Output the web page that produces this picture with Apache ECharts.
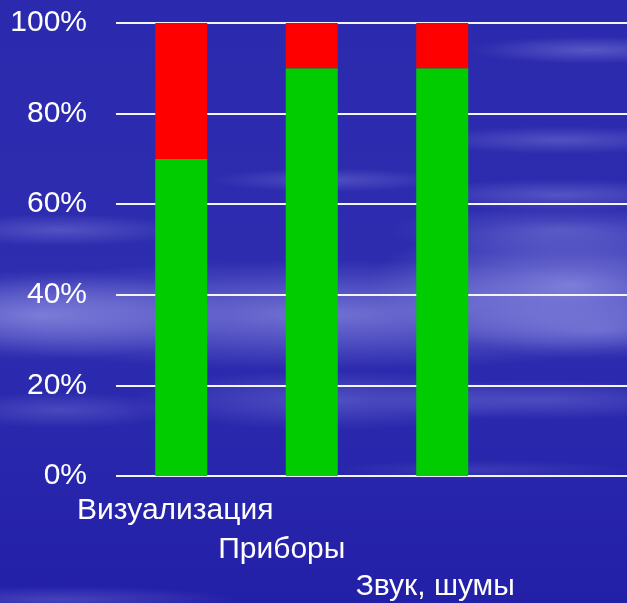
<!DOCTYPE html>
<html>
<head>
<meta charset="utf-8">
<script src="https://cdn.jsdelivr.net/npm/echarts@6/dist/echarts.min.js"></script>
<style>
  html, body { margin: 0; padding: 0; background: #2a2aa8; }
  #chart { width: 627px; height: 603px; }
</style>
</head>
<body>
<div id="chart"></div>
<script>
// Categories (the fourth slot is left empty, as on the slide)
const categories = ['Визуализация', 'Приборы', 'Звук, шумы', ''];
// Share of positive (green) and negative (red) answers, %
const greenValues = [70, 90, 90, null];
const redValues = [30, 10, 10, null];
// Y axis tick values
const yTicks = [0, 20, 40, 60, 80, 100];

const chart = echarts.init(document.getElementById('chart'), null, { renderer: 'canvas' });

// Soft cloud streaks over the blue backdrop: centre, half-width, half-height, strength
const clouds = [
  { cx: 320, cy: 315, rx: 420, ry: 55, o: 0.55 },
  { cx: 40, cy: 315, rx: 190, ry: 45, o: 0.55 },
  { cx: 570, cy: 285, rx: 200, ry: 65, o: 0.6 },
  { cx: 600, cy: 330, rx: 150, ry: 30, o: 0.35 },
  { cx: 560, cy: 230, rx: 170, ry: 25, o: 0.30 },
  { cx: 590, cy: 50, rx: 120, ry: 14, o: 0.35 },
  { cx: 560, cy: 140, rx: 140, ry: 14, o: 0.30 },
  { cx: 560, cy: 195, rx: 150, ry: 16, o: 0.32 },
  { cx: 330, cy: 180, rx: 120, ry: 12, o: 0.28 },
  { cx: 60, cy: 230, rx: 130, ry: 16, o: 0.30 },
  { cx: 330, cy: 400, rx: 200, ry: 30, o: 0.30 },
  { cx: 540, cy: 400, rx: 170, ry: 20, o: 0.28 },
  { cx: 60, cy: 410, rx: 120, ry: 18, o: 0.25 },
  { cx: 60, cy: 600, rx: 180, ry: 14, o: 0.25 },
  { cx: 480, cy: 470, rx: 150, ry: 10, o: 0.15 }
];

const R = 100;
const cloudGraphics = clouds.map(c => ({
  type: 'circle',
  silent: true,
  z: -10,
  x: c.cx,
  y: c.cy,
  scaleX: c.rx / R,
  scaleY: c.ry / R,
  shape: { cx: 0, cy: 0, r: R },
  style: {
    fill: {
      type: 'radial', x: 0.5, y: 0.5, r: 0.5,
      colorStops: [
        { offset: 0, color: 'rgba(170,170,240,' + c.o + ')' },
        { offset: 0.5, color: 'rgba(160,160,235,' + (c.o * 0.55) + ')' },
        { offset: 1, color: 'rgba(150,150,230,0)' }
      ]
    }
  }
}));

const option = {
  backgroundColor: {
    type: 'linear', x: 0, y: 0, x2: 0, y2: 1,
    colorStops: [
      { offset: 0, color: '#2b29ad' },
      { offset: 0.5, color: '#2e2db0' },
      { offset: 1, color: '#2320a8' }
    ]
  },
  animation: false,
  graphic: cloudGraphics,
  grid: { left: 116, top: 23, width: 522, height: 453, outerBoundsMode: 'none' },
  xAxis: {
    type: 'category',
    data: categories,
    axisLine: { show: false },
    axisTick: { show: false },
    axisLabel: {
      interval: 0,
      margin: 20,
      color: '#ffffff',
      fontFamily: 'Liberation Sans, Arial, sans-serif',
      fontSize: 30,
      formatter: (v, i) => v ? '{c' + i + '|' + v + '}' : '',
      rich: {
        c0: { fontSize: 30, color: '#fff', padding: [0, 12, 0, 0] },
        c1: { fontSize: 30, color: '#fff', padding: [39, 60, 0, 0] },
        c2: { fontSize: 30, color: '#fff', padding: [76, 14, 0, 0] }
      }
    }
  },
  yAxis: {
    type: 'value',
    min: 0,
    max: 100,
    interval: 20,
    axisLine: { show: false },
    axisTick: { show: false },
    splitLine: { lineStyle: { color: '#f4f4ff', width: 2 } },
    axisLabel: {
      margin: 29,
      color: '#ffffff',
      fontFamily: 'Liberation Sans, Arial, sans-serif',
      fontSize: 30,
      customValues: yTicks,
      formatter: v => v + '%'
    }
  },
  series: [
    {
      type: 'bar',
      stack: 'total',
      data: greenValues,
      barWidth: 52,
      itemStyle: { color: '#00cc00' }
    },
    {
      type: 'bar',
      stack: 'total',
      data: redValues,
      barWidth: 52,
      itemStyle: { color: '#ff0000' }
    }
  ]
};

chart.setOption(option);
</script>
</body>
</html>
